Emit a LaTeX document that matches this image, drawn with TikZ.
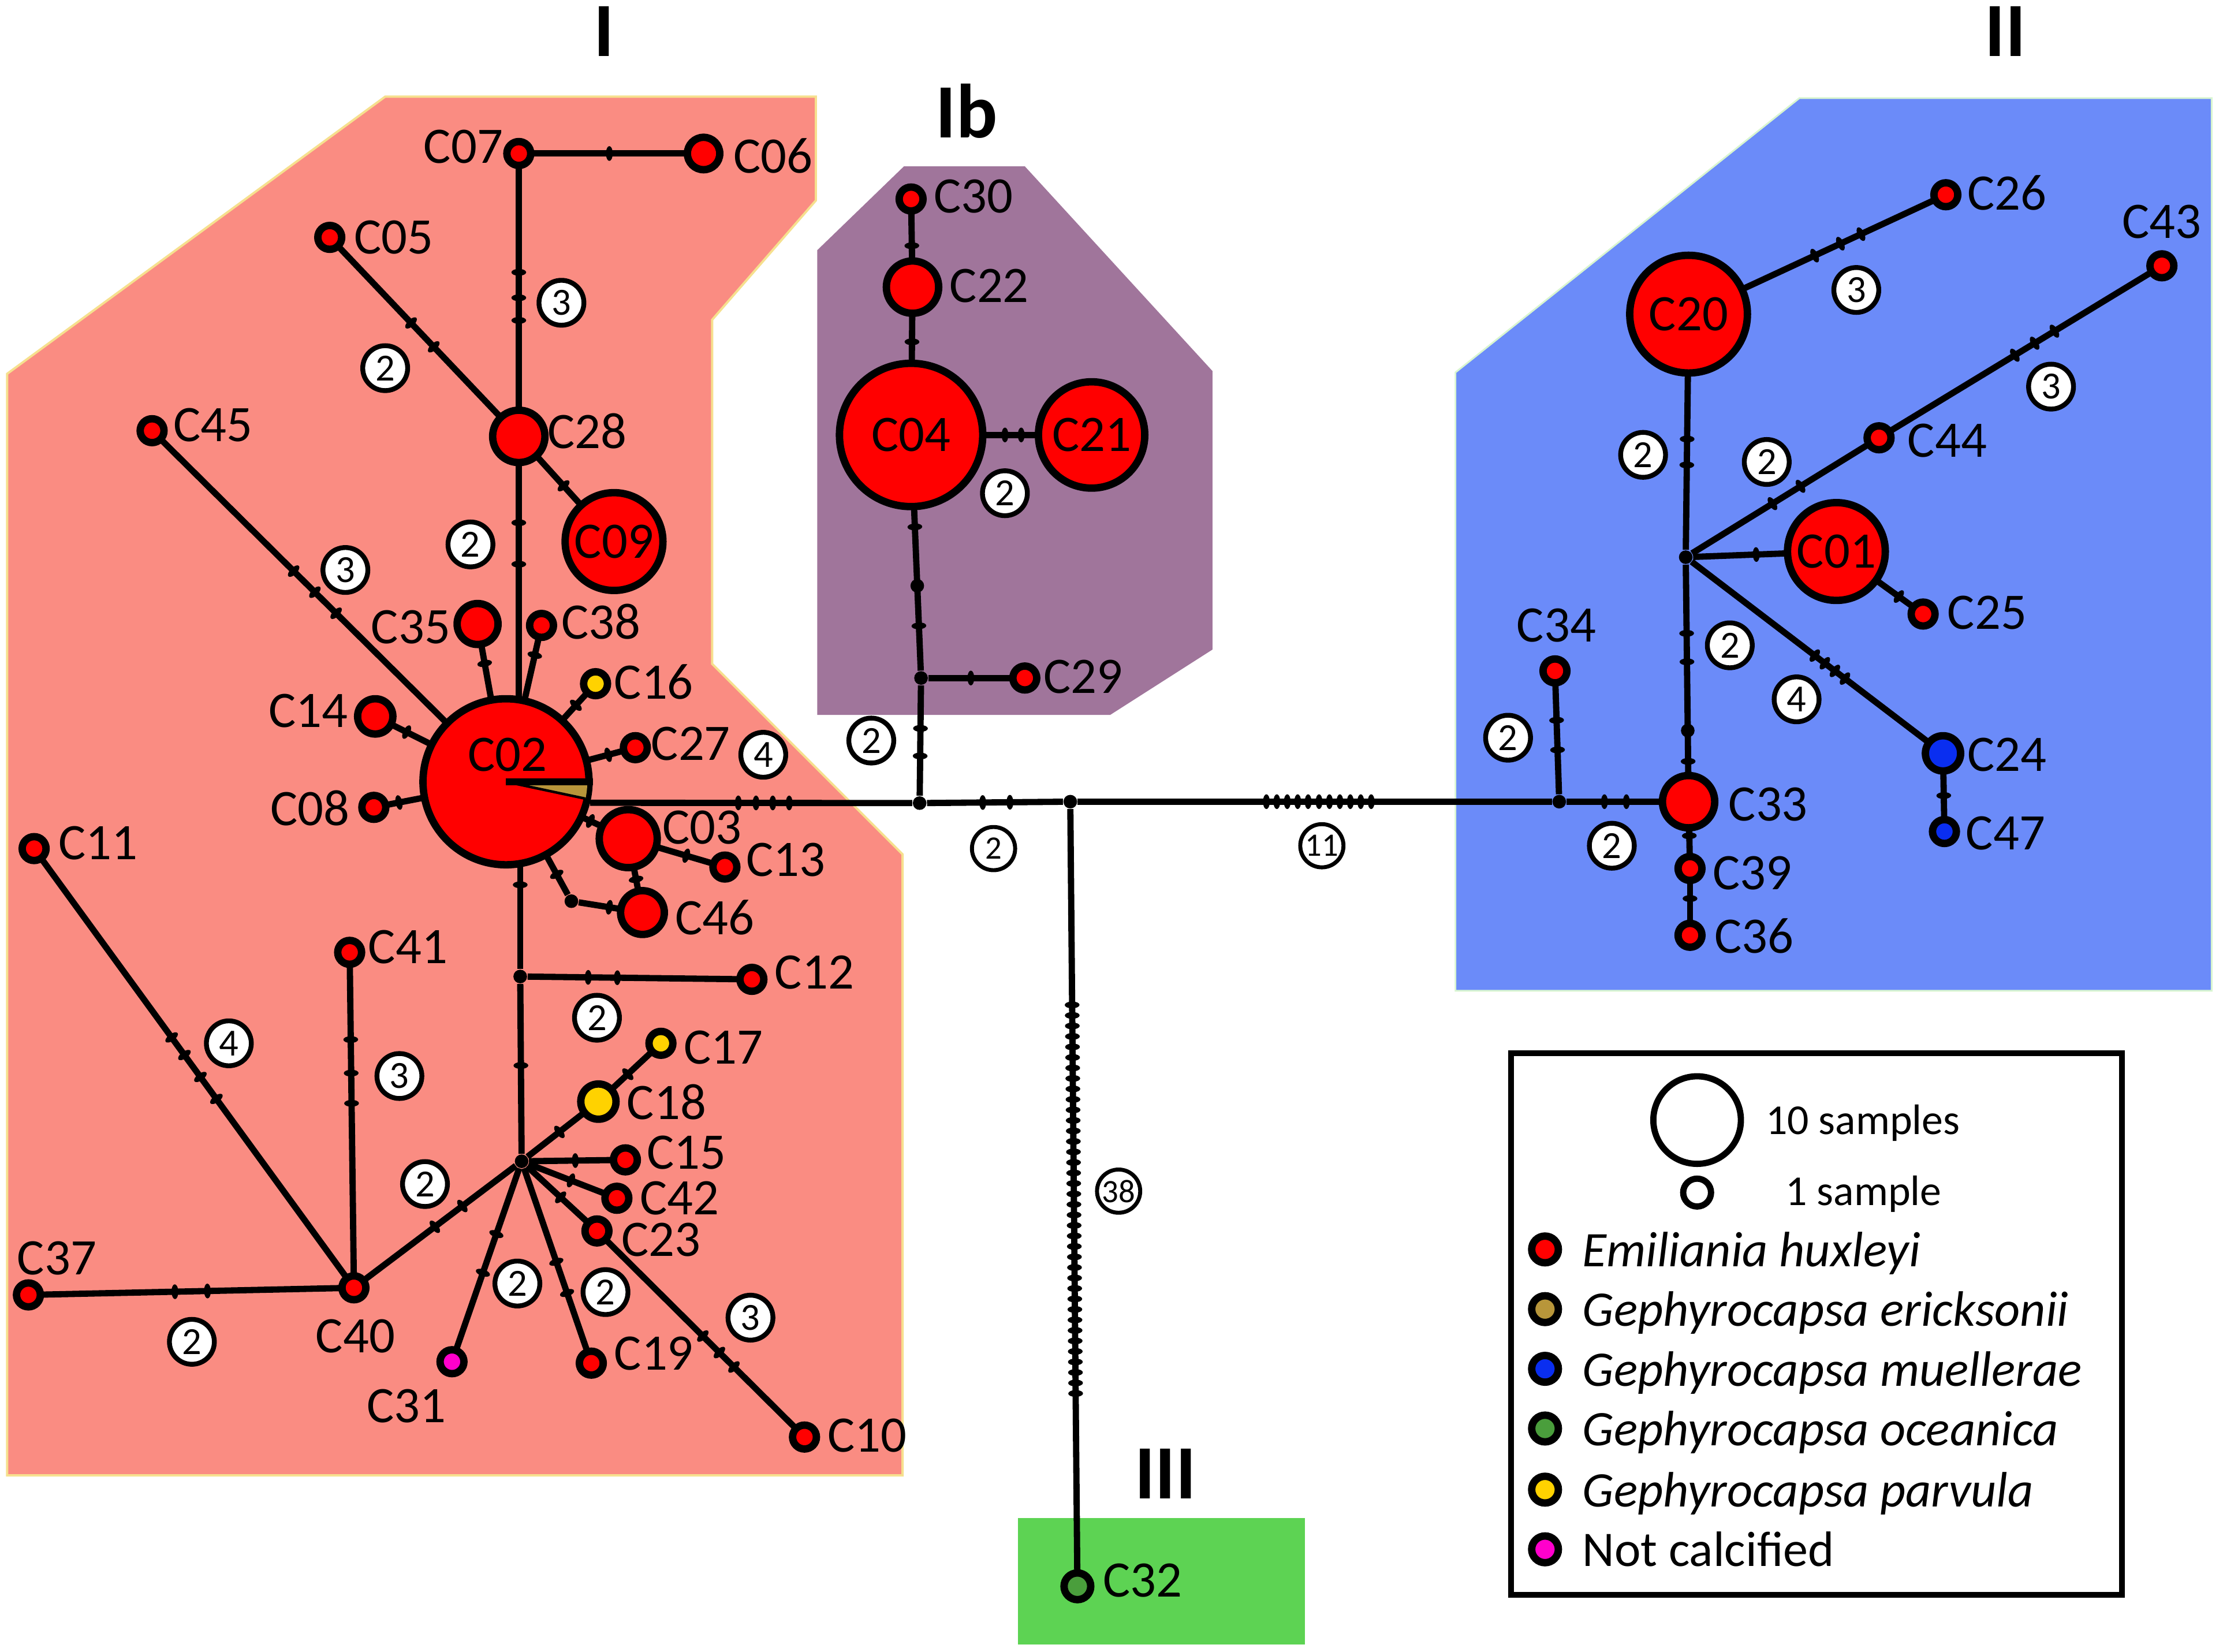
\documentclass[tikz,border=0pt]{standalone}
\usepackage{fontspec}
\setmainfont{Carlito}
\usetikzlibrary{calc,shapes.geometric}
\pgfdeclarelayer{regions}
\pgfdeclarelayer{edges}
\pgfsetlayers{regions,edges,main}
\definecolor{salmon}{HTML}{FA8C82}
\definecolor{plum}{HTML}{A0759B}
\definecolor{skyb}{HTML}{6B8BF9}
\definecolor{lgreen}{HTML}{5DD353}
\definecolor{hred}{HTML}{FF0000}
\definecolor{hyel}{HTML}{FFD200}
\definecolor{hblue}{HTML}{0A2EF0}
\definecolor{hmag}{HTML}{FF00CC}
\definecolor{hgold}{HTML}{B8963A}
\definecolor{hgreen}{HTML}{4A9E3C}
\definecolor{rimyel}{HTML}{F6E08E}
\definecolor{rimgrn}{HTML}{D8F5D0}
\tikzset{
 hap/.style={circle, draw=black, line width=2.6pt, fill=hred, inner sep=0pt, minimum size={(#1-2.6)*1pt}, font=\fontsize{18}{20}\selectfont},
 junc/.style={circle, fill=black, inner sep=0pt, minimum size=4.8pt},
 tick/.style={ellipse, fill=black, inner sep=0pt, minimum width=2.4pt, minimum height=5.2pt, sloped},
 edge/.style={line width=2.2pt, black},
 lab/.style={font=\fontsize{18}{20}\selectfont, inner sep=0pt, text height=11.6pt, text depth=0pt},
 num/.style={circle, draw=black, line width=1.7pt, fill=white, inner sep=0pt, minimum size=15.8pt, font=\fontsize{13.5}{14}\selectfont},
 numw/.style={circle, draw=black, line width=1.4pt, fill=white, inner sep=0pt, minimum size=15.2pt, font=\fontsize{11.5}{12}\selectfont},
 grp/.style={font=\bfseries\fontsize{27}{30}\selectfont, inner sep=0pt},
 leg/.style={font=\fontsize{17.5}{19}\selectfont, anchor=base west, inner sep=0pt},
 legs/.style={font=\fontsize{15}{17}\selectfont, anchor=base west, inner sep=0pt},
}
\begin{document}
\begin{tikzpicture}[x=0.5pt,y=-0.5pt]
\useasboundingbox (0,0) rectangle (1564,1162);
\begin{pgfonlayer}{regions}
\fill[white] (0,0) rectangle (1564,1162);
\filldraw[fill=salmon, draw=rimyel, line width=0.8pt] (5,263) -- (271,68) -- (574,68) -- (574,141) -- (501,225) -- (501,467) -- (635,601) -- (635,1038) -- (5,1038) -- cycle;
\fill[plum] (575,176) -- (636,117) -- (721,117) -- (853,261) -- (853,457) -- (781,503) -- (575,503) -- cycle;
\filldraw[fill=skyb, draw=rimgrn, line width=0.6pt] (1024,262) -- (1266,69) -- (1556,69) -- (1556,697) -- (1024,697) -- cycle;
\fill[lgreen] (716,1068) rectangle (918,1157);
\end{pgfonlayer}

% group labels
\node[grp] (gI) at (425,22) {I};
\node[grp] (gIb) at (680,78) {Ib};
\node[grp] (gII) at (1411,22) {II};
\node[grp] (gIII) at (820,1037) {III};

% haplotypes, group I
\node[hap=11] (C07) at (365,108) {};
\node[hap=14] (C06) at (495,108) {};
\node[hap=11] (C05) at (232,167) {};
\node[hap=21] (C28) at (365,307) {};
\node[hap=37] (C09) at (432,381) {C09};
\node[hap=11] (C45) at (107,303) {};
\node[hap=17] (C35) at (336,439) {};
\node[hap=11] (C38) at (381,440) {};
\node[hap=11, fill=hyel] (C16) at (419,481) {};
\node[hap=15] (C14) at (264,504) {};
\node[hap=61] (C02) at (356,550) {};
\fill[hgold] (C02.center) -- ++(0:28.6pt) arc[start angle=0, end angle=-12, radius=28.6pt] -- cycle;
\draw[line width=0.9pt] (C02.center) -- ++(-12:28.6pt);
\draw[line width=2.4pt] (C02.center) -- (C02.east);
\node[lab] (tC02) at (357,531) {C02};
\node[hap=11] (C27) at (447,526) {};
\node[hap=11] (C08) at (263,568) {};
\node[hap=23] (C03) at (442,590) {};
\node[hap=11] (C13) at (510,610) {};
\node[hap=18] (C46) at (452,642) {};
\node[hap=11] (C11) at (24,597) {};
\node[hap=11] (C41) at (246,670) {};
\node[hap=11] (C12) at (529,689) {};
\node[hap=11, fill=hyel] (C17) at (465,734) {};
\node[hap=15, fill=hyel] (C18) at (421,775) {};
\node[hap=11] (C15) at (440,816) {};
\node[hap=11] (C42) at (434,843) {};
\node[hap=11] (C23) at (420,866) {};
\node[hap=11] (C40) at (249,906) {};
\node[hap=11] (C37) at (20,911) {};
\node[hap=11, fill=hmag] (C31) at (318,958) {};
\node[hap=11] (C19) at (416,959) {};
\node[hap=11] (C10) at (566,1011) {};
% group Ib
\node[hap=11] (C30) at (641,140) {};
\node[hap=21] (C22) at (642,202) {};
\node[hap=53] (C04) at (641,306) {C04};
\node[hap=40] (C21) at (768,306) {C21};
\node[hap=11] (C29) at (721,477) {};
% group II
\node[hap=44] (C20) at (1188,221) {C20};
\node[hap=11] (C26) at (1369,137) {};
\node[hap=11] (C43) at (1521,187) {};
\node[hap=11] (C44) at (1322,308) {};
\node[hap=37] (C01) at (1292,388) {C01};
\node[hap=11] (C25) at (1353,432) {};
\node[hap=11] (C34) at (1094,472) {};
\node[hap=15, fill=hblue] (C24) at (1367,530) {};
\node[hap=11, fill=hblue] (C47) at (1368,585) {};
\node[hap=21] (C33) at (1188,564) {};
\node[hap=11] (C39) at (1189,611) {};
\node[hap=11] (C36) at (1189,658) {};
% group III
\node[hap=12, fill=hgreen] (C32) at (758,1116) {};

% junctions
\node[junc] (j1) at (366,687) {};
\node[junc] (hub) at (367,817) {};
\node[junc] (j3) at (402,634) {};
\node[junc] (A) at (647,565) {};
\node[junc] (B) at (753,564) {};
\node[junc] (C) at (1097,564) {};
\node[junc] (D) at (1186,392) {};
\node[junc] (J29) at (648,477) {};

\begin{pgfonlayer}{edges}
% group I
\draw[edge] (C07.center) -- (C06.center) node[tick,pos=0.49]{};
\draw[edge] (C07.center) -- (C28.center) node[tick,pos=0.42]{} node[tick,pos=0.51]{} node[tick,pos=0.59]{};
\draw[edge] (C05.center) -- (C28.center) node[tick,pos=0.43]{} node[tick,pos=0.55]{};
\draw[edge] (C28.center) -- (C09.center) node[tick,pos=0.47]{};
\draw[edge] (C28.center) -- (C28.center |- C02.center) node[tick,pos=0.25]{} node[tick,pos=0.37]{};
\draw[edge] (C45.center) -- (C02.center) node[tick,pos=0.40]{} node[tick,pos=0.46]{} node[tick,pos=0.52]{};
\draw[edge] (C35.center) -- (C02.center) node[tick,pos=0.25]{};
\draw[edge] (C38.center) -- (C02.center) node[tick,pos=0.19]{};
\draw[edge] (C16.center) -- (C02.center) node[tick,pos=0.22]{};
\draw[edge] (C27.center) -- (C02.center) node[tick,pos=0.21]{};
\draw[edge] (C14.center) -- (C02.center) node[tick,pos=0.24]{};
\draw[edge] (C08.center) -- (C02.center) node[tick,pos=0.19]{};
\draw[edge] (C02.center) -- (C03.center) node[tick,pos=0.69]{};
\draw[edge] (C03.center) -- (C13.center) node[tick,pos=0.60]{};
\draw[edge] (C03.center) -- (C46.center) node[tick,pos=0.55]{};
\draw[edge] (C02.center) -- (j3) node[tick,pos=0.82]{};
\draw[edge] (j3) -- (C46.center) node[tick,pos=0.48]{};
\draw[edge] (j1 |- C02.center) -- (j1) node[tick,pos=0.55]{};
\draw[edge] (j1) -- (hub) node[tick,pos=0.48]{};
\draw[edge] (j1) -- (C12.center) node[tick,pos=0.27]{} node[tick,pos=0.40]{};
\draw[edge] (hub) -- (C18.center) node[tick,pos=0.45]{};
\draw[edge] (C18.center) -- (C17.center) node[tick,pos=0.47]{};
\draw[edge] (hub) -- (C15.center) node[tick,pos=0.48]{};
\draw[edge] (hub) -- (C42.center) node[tick,pos=0.48]{};
\draw[edge] (hub) -- (C23.center) node[tick,pos=0.48]{};
\draw[edge] (hub) -- (C19.center) node[tick,pos=0.48]{} node[tick,pos=0.64]{};
\draw[edge] (hub) -- (C31.center) node[tick,pos=0.34]{} node[tick,pos=0.54]{};
\draw[edge] (hub) -- (C40.center) node[tick,pos=0.33]{} node[tick,pos=0.50]{};
\draw[edge] (C23.center) -- (C10.center) node[tick,pos=0.51]{} node[tick,pos=0.59]{} node[tick,pos=0.66]{};
\draw[edge] (C40.center) -- (C37.center) node[tick,pos=0.45]{} node[tick,pos=0.55]{};
\draw[edge] (C40.center) -- (C41.center) node[tick,pos=0.55]{} node[tick,pos=0.64]{} node[tick,pos=0.74]{};
\draw[edge] (C40.center) -- (C11.center) node[tick,pos=0.43]{} node[tick,pos=0.48]{} node[tick,pos=0.53]{} node[tick,pos=0.57]{};
\draw[edge] (C02.-14) -- (A) node[tick,pos=0.46]{} node[tick,pos=0.515]{} node[tick,pos=0.567]{} node[tick,pos=0.618]{};
% group Ib
\draw[edge] (A) -- (J29) node[tick,pos=0.36]{} node[tick,pos=0.61]{};
\draw[edge] (J29) -- (C04.center) node[tick,pos=0.19]{} node[junc,pos=0.36]{} node[tick,pos=0.61]{};
\draw[edge] (J29) -- (C29.center) node[tick,pos=0.44]{};
\draw[edge] (C04.center) -- (C21.center) node[tick,pos=0.52]{} node[tick,pos=0.61]{};
\draw[edge] (C30.center) -- (C22.center) node[tick,pos=0.53]{};
\draw[edge] (C22.center) -- (C04.center) node[tick,pos=0.37]{};
% backbone
\draw[edge] (A) -- (B) node[tick,pos=0.41]{} node[tick,pos=0.61]{};
\draw[edge] (B) -- (C) \foreach \p in {0.398,0.420,0.442,0.464,0.486,0.509,0.531,0.553,0.575,0.597,0.619} {node[tick,pos=\p]{}};
\draw[edge] (C) -- (C33.center) node[tick,pos=0.31]{} node[tick,pos=0.49]{};
\draw[edge] (C34.center) -- (C) node[tick,pos=0.40]{} node[tick,pos=0.64]{};
\draw[edge] (B) -- (C32.center) \foreach \p in {0.2520,0.2655,0.2790,0.2925,0.3060,0.3196,0.3331,0.3466,0.3601,0.3736,0.3871,0.4006,0.4141,0.4276,0.4411,0.4547,0.4682,0.4817,0.4952,0.5087,0.5222,0.5357,0.5492,0.5627,0.5762,0.5898,0.6033,0.6168,0.6303,0.6438,0.6573,0.6708,0.6843,0.6978,0.7113,0.7249,0.7384,0.7519} {node[tick,pos=\p]{}};
% group II
\draw[edge] (C33.center) -- (D) node[tick,pos=0.17]{} node[junc,pos=0.30]{} node[tick,pos=0.59]{} node[tick,pos=0.71]{};
\draw[edge] (D) -- (C20.center) node[tick,pos=0.36]{} node[tick,pos=0.47]{};
\draw[edge] (C20.center) -- (C26.center) node[tick,pos=0.49]{} node[tick,pos=0.59]{} node[tick,pos=0.67]{};
\draw[edge] (D) -- (C44.center) node[tick,pos=0.43]{} node[tick,pos=0.58]{};
\draw[edge] (C44.center) -- (C43.center) node[tick,pos=0.48]{} node[tick,pos=0.55]{} node[tick,pos=0.62]{};
\draw[edge] (D) -- (C01.center) node[tick,pos=0.44]{};
\draw[edge] (C01.center) -- (C25.center) node[tick,pos=0.72]{};
\draw[edge] (D) -- (C24.center) node[tick,pos=0.49]{} node[tick,pos=0.53]{} node[tick,pos=0.57]{} node[tick,pos=0.61]{};
\draw[edge] (C24.center) -- (C47.center) node[tick,pos=0.54]{};
\draw[edge] (C33.center) -- (C39.center) node[tick,pos=0.51]{};
\draw[edge] (C39.center) -- (C36.center) node[tick,pos=0.45]{};
\end{pgfonlayer}

% haplotype labels
\node[lab] (lC07) at (326,103) {C07};
\node[lab] (lC06) at (544,110) {C06};
\node[lab] (lC05) at (277,167) {C05};
\node[lab] (lC45) at (150,299) {C45};
\node[lab] (lC28) at (413,304) {C28};
\node[lab] (lC35) at (289,441) {C35};
\node[lab] (lC38) at (423,438) {C38};
\node[lab] (lC16) at (460,480) {C16};
\node[lab] (lC14) at (217,500) {C14};
\node[lab] (lC27) at (486,523) {C27};
\node[lab] (lC08) at (218,569) {C08};
\node[lab] (lC03) at (494,582) {C03};
\node[lab] (lC13) at (553,605) {C13};
\node[lab] (lC46) at (503,646) {C46};
\node[lab] (lC11) at (69,593) {C11};
\node[lab] (lC41) at (287,666) {C41};
\node[lab] (lC12) at (573,684) {C12};
\node[lab] (lC17) at (509,737) {C17};
\node[lab] (lC18) at (469,776) {C18};
\node[lab] (lC15) at (483,811) {C15};
\node[lab] (lC42) at (478,843) {C42};
\node[lab] (lC23) at (465,872) {C23};
\node[lab] (lC40) at (250,940) {C40};
\node[lab] (lC37) at (40,885) {C37};
\node[lab] (lC31) at (286,989) {C31};
\node[lab] (lC19) at (460,952) {C19};
\node[lab] (lC10) at (610,1010) {C10};
\node[lab] (lC30) at (685,138) {C30};
\node[lab] (lC22) at (696,201) {C22};
\node[lab] (lC29) at (762,476) {C29};
\node[lab] (lC26) at (1412,136) {C26};
\node[lab] (lC43) at (1521,156) {C43};
\node[lab] (lC44) at (1370,310) {C44};
\node[lab] (lC25) at (1398,431) {C25};
\node[lab] (lC34) at (1095,440) {C34};
\node[lab] (lC24) at (1412,531) {C24};
\node[lab] (lC33) at (1244,566) {C33};
\node[lab] (lC47) at (1411,586) {C47};
\node[lab] (lC39) at (1233,614) {C39};
\node[lab] (lC36) at (1234,659) {C36};
\node[lab] (lC32) at (804,1112) {C32};

% mutation counts
\node[num] (n1) at (395,213) {3};
\node[num] (n2) at (271,259) {2};
\node[num] (n3) at (331,383) {2};
\node[num] (n4) at (243,401) {3};
\node[num] (n5) at (537,531) {4};
\node[num] (n6) at (420,716) {2};
\node[num] (n7) at (161,734) {4};
\node[num] (n8) at (281,757) {3};
\node[num] (n9) at (299,833) {2};
\node[num] (n10) at (364,903) {2};
\node[num] (n11) at (426,909) {2};
\node[num] (n12) at (528,927) {3};
\node[num] (n13) at (135,944) {2};
\node[num] (n14) at (707,347) {2};
\node[num] (n15) at (613,521) {2};
\node[numw] (n16) at (699,597) {2};
\node[numw] (n17) at (930,595) {11};
\node[numw] (n18) at (787,838) {38};
\node[num] (n19) at (1306,204) {3};
\node[num] (n20) at (1443,272) {3};
\node[num] (n21) at (1156,320) {2};
\node[num] (n22) at (1243,325) {2};
\node[num] (n23) at (1217,454) {2};
\node[num] (n24) at (1264,492) {4};
\node[num] (n25) at (1061,519) {2};
\node[num] (n26) at (1134,595) {2};

% legend
\node[draw=black, line width=2pt, inner sep=0pt, minimum width=215pt, minimum height=190.5pt] (legend) at (1278,931.5) {};
\node[circle, draw=black, line width=2.2pt, inner sep=0pt, minimum size=30.8pt] (L10) at (1194,788) {};
\node[circle, draw=black, line width=2.2pt, inner sep=0pt, minimum size=9.8pt] (L1s) at (1194,839) {};
\node[legs] (t10) at (1242,798) {10 samples};
\node[legs] (t1) at (1256,848) {1 sample};
\node[hap=12] (L1) at (1087,879) {};
\node[hap=12, fill=hgold] (L2) at (1087,921) {};
\node[hap=12, fill=hblue] (L3) at (1087,963) {};
\node[hap=12, fill=hgreen] (L4) at (1087,1005) {};
\node[hap=12, fill=hyel] (L5) at (1087,1048) {};
\node[hap=12, fill=hmag] (L6) at (1087,1090) {};
\node[leg] (s1) at (1113,891) {\itshape Emiliania huxleyi};
\node[leg] (s2) at (1113,933) {\itshape Gephyrocapsa ericksonii};
\node[leg] (s3) at (1113,975) {\itshape Gephyrocapsa muellerae};
\node[leg] (s4) at (1113,1017) {\itshape Gephyrocapsa oceanica};
\node[leg] (s5) at (1113,1060) {\itshape Gephyrocapsa parvula};
\node[leg] (s6) at (1113,1102) {Not calcified};
\end{tikzpicture}
\end{document}
